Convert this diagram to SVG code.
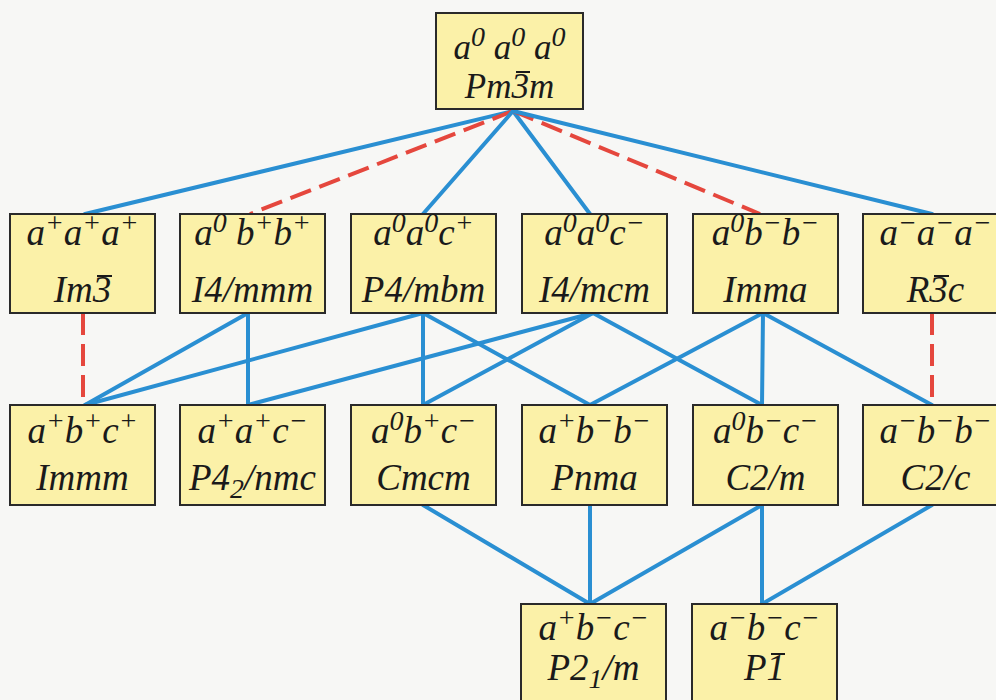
<svg xmlns="http://www.w3.org/2000/svg" width="996" height="700" viewBox="0 0 996 700">
<style>
.bg{fill:#f7f7f5}
.box{fill:#fbf1a8;stroke:#2a2a2a;stroke-width:2}
.t{font-family:"Liberation Serif","Times New Roman",serif;font-style:italic;font-size:37px;fill:#1a1a1a;text-anchor:middle}
.tt{font-size:35px}
.s{font-size:28px}
.bar{stroke:#1a1a1a;stroke-width:2}
.b{stroke:#2a8fd2;stroke-width:4;fill:none;stroke-linecap:round}
.r{stroke:#e5473d;stroke-width:4;fill:none;stroke-dasharray:22 9}
</style>
<rect class="bg" x="0" y="0" width="996" height="700"/>
<g id="connectors">
<line class="b" x1="513" y1="111" x2="85" y2="214"/>
<line class="r" x1="513" y1="111" x2="250" y2="214"/>
<line class="b" x1="513" y1="111" x2="423" y2="214"/>
<line class="b" x1="513" y1="111" x2="590" y2="214"/>
<line class="r" x1="513" y1="111" x2="760" y2="214"/>
<line class="b" x1="513" y1="111" x2="932" y2="214"/>
<line class="r" x1="83" y1="313" x2="83" y2="405"/>
<line class="b" x1="248" y1="313" x2="85" y2="405"/>
<line class="b" x1="248" y1="313" x2="248" y2="405"/>
<line class="b" x1="423" y1="313" x2="85" y2="405"/>
<line class="b" x1="423" y1="313" x2="423" y2="405"/>
<line class="b" x1="423" y1="313" x2="590" y2="405"/>
<line class="b" x1="593" y1="313" x2="248" y2="405"/>
<line class="b" x1="593" y1="313" x2="423" y2="405"/>
<line class="b" x1="593" y1="313" x2="762" y2="405"/>
<line class="b" x1="763" y1="313" x2="590" y2="405"/>
<line class="b" x1="763" y1="313" x2="762" y2="405"/>
<line class="b" x1="763" y1="313" x2="932" y2="405"/>
<line class="r" x1="932" y1="313" x2="932" y2="405"/>
<line class="b" x1="423" y1="505" x2="590" y2="604"/>
<line class="b" x1="590" y1="505" x2="590" y2="604"/>
<line class="b" x1="762" y1="505" x2="590" y2="604"/>
<line class="b" x1="762" y1="505" x2="762" y2="604"/>
<line class="b" x1="932" y1="505" x2="762" y2="604"/>
</g>
<g id="n-top"><rect class="box" x="436" y="13" width="147" height="96"/>
<text class="t tt" x="509.5" y="59">a<tspan class="s" dy="-13">0</tspan><tspan dy="13"> a</tspan><tspan class="s" dy="-13">0</tspan><tspan dy="13"> a</tspan><tspan class="s" dy="-13">0</tspan></text>
<text class="t tt" x="509.5" y="98">Pm3m</text>
<line class="bar" x1="516" y1="72" x2="530" y2="72"/></g>
<g id="n-im3"><rect class="box" x="10" y="214" width="145" height="99"/>
<text class="t" x="82.5" y="245">a<tspan class="s" dy="-13">+</tspan><tspan dy="13">a</tspan><tspan class="s" dy="-13">+</tspan><tspan dy="13">a</tspan><tspan class="s" dy="-13">+</tspan></text>
<text class="t" x="82.5" y="302">Im3</text>
<line class="bar" x1="97" y1="276" x2="112" y2="276"/></g>
<g id="n-i4mmm"><rect class="box" x="180" y="214" width="145" height="99"/>
<text class="t" x="252.5" y="245">a<tspan class="s" dy="-13">0</tspan><tspan dy="13"> b</tspan><tspan class="s" dy="-13">+</tspan><tspan dy="13">b</tspan><tspan class="s" dy="-13">+</tspan></text>
<text class="t" x="252.5" y="302">I4/mmm</text></g>
<g id="n-p4mbm"><rect class="box" x="351" y="214" width="145" height="99"/>
<text class="t" x="423.5" y="245">a<tspan class="s" dy="-13">0</tspan><tspan dy="13">a</tspan><tspan class="s" dy="-13">0</tspan><tspan dy="13">c</tspan><tspan class="s" dy="-13">+</tspan></text>
<text class="t" x="423.5" y="302">P4/mbm</text></g>
<g id="n-i4mcm"><rect class="box" x="522" y="214" width="145" height="99"/>
<text class="t" x="594.5" y="245">a<tspan class="s" dy="-13">0</tspan><tspan dy="13">a</tspan><tspan class="s" dy="-13">0</tspan><tspan dy="13">c</tspan><tspan class="s" dy="-13">−</tspan></text>
<text class="t" x="594.5" y="302">I4/mcm</text></g>
<g id="n-imma"><rect class="box" x="693" y="214" width="145" height="99"/>
<text class="t" x="765.5" y="245">a<tspan class="s" dy="-13">0</tspan><tspan dy="13">b</tspan><tspan class="s" dy="-13">−</tspan><tspan dy="13">b</tspan><tspan class="s" dy="-13">−</tspan></text>
<text class="t" x="765.5" y="302">Imma</text></g>
<g id="n-r3c"><rect class="box" x="863" y="214" width="145" height="99"/>
<text class="t" x="935.5" y="245">a<tspan class="s" dy="-13">−</tspan><tspan dy="13">a</tspan><tspan class="s" dy="-13">−</tspan><tspan dy="13">a</tspan><tspan class="s" dy="-13">−</tspan></text>
<text class="t" x="935.5" y="302">R3c</text>
<line class="bar" x1="934" y1="276" x2="949" y2="276"/></g>
<g id="n-immm"><rect class="box" x="10" y="405" width="145" height="100"/>
<text class="t" x="82.5" y="443">a<tspan class="s" dy="-13">+</tspan><tspan dy="13">b</tspan><tspan class="s" dy="-13">+</tspan><tspan dy="13">c</tspan><tspan class="s" dy="-13">+</tspan></text>
<text class="t" x="82.5" y="490">Immm</text></g>
<g id="n-p42nmc"><rect class="box" x="180" y="405" width="145" height="100"/>
<text class="t" x="252.5" y="443">a<tspan class="s" dy="-13">+</tspan><tspan dy="13">a</tspan><tspan class="s" dy="-13">+</tspan><tspan dy="13">c</tspan><tspan class="s" dy="-13">−</tspan></text>
<text class="t" x="252.5" y="490">P4<tspan class="s" dy="8">2</tspan><tspan dy="-8">/nmc</tspan></text></g>
<g id="n-cmcm"><rect class="box" x="351" y="405" width="145" height="100"/>
<text class="t" x="423.5" y="443">a<tspan class="s" dy="-13">0</tspan><tspan dy="13">b</tspan><tspan class="s" dy="-13">+</tspan><tspan dy="13">c</tspan><tspan class="s" dy="-13">−</tspan></text>
<text class="t" x="423.5" y="490">Cmcm</text></g>
<g id="n-pnma"><rect class="box" x="522" y="405" width="145" height="100"/>
<text class="t" x="594.5" y="443">a<tspan class="s" dy="-13">+</tspan><tspan dy="13">b</tspan><tspan class="s" dy="-13">−</tspan><tspan dy="13">b</tspan><tspan class="s" dy="-13">−</tspan></text>
<text class="t" x="594.5" y="490">Pnma</text></g>
<g id="n-c2m"><rect class="box" x="693" y="405" width="145" height="100"/>
<text class="t" x="765.5" y="443">a<tspan class="s" dy="-13">0</tspan><tspan dy="13">b</tspan><tspan class="s" dy="-13">−</tspan><tspan dy="13">c</tspan><tspan class="s" dy="-13">−</tspan></text>
<text class="t" x="765.5" y="490">C2/m</text></g>
<g id="n-c2c"><rect class="box" x="863" y="405" width="145" height="100"/>
<text class="t" x="935.5" y="443">a<tspan class="s" dy="-13">−</tspan><tspan dy="13">b</tspan><tspan class="s" dy="-13">−</tspan><tspan dy="13">b</tspan><tspan class="s" dy="-13">−</tspan></text>
<text class="t" x="935.5" y="490">C2/c</text></g>
<g id="n-p21m"><rect class="box" x="521" y="604" width="145" height="100"/>
<text class="t" x="593.5" y="640">a<tspan class="s" dy="-13">+</tspan><tspan dy="13">b</tspan><tspan class="s" dy="-13">−</tspan><tspan dy="13">c</tspan><tspan class="s" dy="-13">−</tspan></text>
<text class="t" x="593.5" y="680">P2<tspan class="s" dy="8">1</tspan><tspan dy="-8">/m</tspan></text></g>
<g id="n-p1"><rect class="box" x="692" y="604" width="145" height="100"/>
<text class="t" x="764.5" y="640">a<tspan class="s" dy="-13">−</tspan><tspan dy="13">b</tspan><tspan class="s" dy="-13">−</tspan><tspan dy="13">c</tspan><tspan class="s" dy="-13">−</tspan></text>
<text class="t" x="764.5" y="680">P1</text>
<line class="bar" x1="771" y1="654" x2="785" y2="654"/></g>
</svg>
